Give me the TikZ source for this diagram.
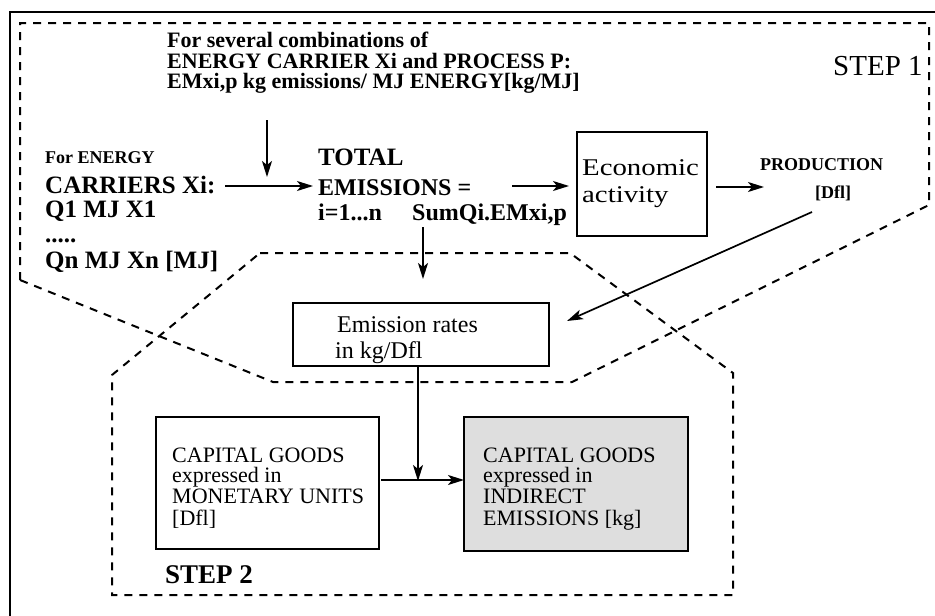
\documentclass[tikz,border=0pt]{standalone}
\usepackage{fontspec}
\setmainfont{Liberation Serif}
\usetikzlibrary{arrows.meta}
\newcommand\myfs[2]{\fontsize{#1}{#2}\selectfont}
\begin{document}
\begin{tikzpicture}[x=1pt,y=-1pt,
  txt/.style={inner sep=0pt, anchor=base west},
  dline/.style={line width=2pt, dash pattern=on 8pt off 7pt},
  boxst/.style={draw, line width=2pt, inner sep=0pt},
  arr/.style={line width=1.7pt, -{Stealth[length=16pt,width=10pt,inset=4pt]}},
]
\useasboundingbox (0,0) rectangle (935,616);
% outer frame (top and left visible)
\draw[line width=2.2pt] (10,616) -- (10,12) -- (935,12);

% STEP 1 region
\draw[dline] (20,280) -- (20,23) -- (929,23) -- (929,205) -- (572,382) -- (273,382) -- cycle;
% STEP 2 region
\draw[dline] (260,253) -- (570,253) -- (733,373) -- (733,595) -- (112,595) -- (112,375) -- cycle;

% top text
\node[txt, font=\bfseries\myfs{22}{22}] (top1) at (167,47) {For several combinations of};
\node[txt, font=\bfseries\myfs{22}{22}] (top2) at (167,68) {ENERGY CARRIER Xi and PROCESS P:};
\node[txt, font=\bfseries\myfs{22}{22}] (top3) at (167,88) {EMxi,p kg emissions/ MJ ENERGY[kg/MJ]};

\node[txt, font=\myfs{29}{29}] (step1) at (833,75) {STEP 1};

% left block
\node[txt, font=\bfseries\myfs{18}{18}] (forE) at (45,163) {For ENERGY};
\node[txt, font=\bfseries\myfs{25}{25}] (carr) at (45,193) {CARRIERS Xi:};
\node[txt, font=\bfseries\myfs{25}{25}] (q1) at (45,217) {Q1 MJ X1};
\node[txt, font=\bfseries\myfs{25}{25}] (dots) at (45,242) {.....};
\node[txt, font=\bfseries\myfs{25}{25}] (qn) at (45,268) {Qn MJ Xn [MJ]};

% total block
\node[txt, font=\bfseries\myfs{25}{25}] (total) at (318,165) {TOTAL};
\node[txt, font=\bfseries\myfs{24}{24}] (emiss) at (318,195) {EMISSIONS =};
\node[txt, font=\bfseries\myfs{24}{24}] (ion) at (318,220) {i=1...n};
\node[txt, font=\bfseries\myfs{24}{24}] (sumq) at (412,220) {SumQi.EMxi,p};

% economic activity
\node[boxst, minimum width=130pt, minimum height=104pt] (econ) at (642,183.5) {};
\node[txt, font=\myfs{24}{24}] (econt1) at (582,175) {\scalebox{1.2}[1]{Economic}};
\node[txt, font=\myfs{24}{24}] (econt2) at (582,202) {\scalebox{1.2}[1]{activity}};

% production
\node[txt, font=\bfseries\myfs{18}{18}] (prod) at (760,170) {PRODUCTION};
\node[txt, font=\bfseries\myfs{18}{18}] (dfl) at (815,198) {[Dfl]};

% emission rates
\node[boxst, minimum width=256pt, minimum height=63pt] (emis) at (421,334.5) {};
\node[txt, font=\myfs{24}{24}] (emist1) at (337,332) {Emission rates};
\node[txt, font=\myfs{24}{24}] (emist2) at (335,358) {in kg/Dfl};

% capital goods boxes
\node[boxst, minimum width=223pt, minimum height=132pt] (capL) at (267.5,483) {};
\node[txt, font=\myfs{22}{22}] (cl1) at (172,462) {CAPITAL GOODS};
\node[txt, font=\myfs{22}{22}] (cl2) at (172,482) {expressed in};
\node[txt, font=\myfs{22}{22}] (cl3) at (172,503) {MONETARY UNITS};
\node[txt, font=\myfs{22}{22}] (cl4) at (172,525) {[Dfl]};

\node[boxst, fill=black!13, minimum width=224pt, minimum height=134pt] (capR) at (576,484) {};
\node[txt, font=\myfs{22}{22}] (cr1) at (483,462) {CAPITAL GOODS};
\node[txt, font=\myfs{22}{22}] (cr2) at (483,482) {expressed in};
\node[txt, font=\myfs{22}{22}] (cr3) at (483,503) {INDIRECT};
\node[txt, font=\myfs{22}{22}] (cr4) at (483,525) {EMISSIONS [kg]};

\node[txt, font=\bfseries\myfs{27}{27}] (step2) at (165,583) {STEP 2};

% connectors
\coordinate (a1s) at (267,120); \coordinate (a1e) at (267,177);
\draw[arr] (a1s) -- (a1e);
\coordinate (a2s) at (225,186); \coordinate (a2e) at (313,186);
\draw[arr] (a2s) -- (a2e);
\coordinate (a3s) at (512,186); \coordinate (a3e) at (569,186);
\draw[arr] (a3s) -- (a3e);
\coordinate (a4s) at (716,187); \coordinate (a4e) at (764,187);
\draw[arr] (a4s) -- (a4e);
\coordinate (a5s) at (812,212); \coordinate (a5e) at (567,321);
\draw[arr] (a5s) -- (a5e);
\coordinate (a6s) at (423,227); \coordinate (a6e) at (423,279);
\draw[arr] (a6s) -- (a6e);
\coordinate (a7s) at (418,366); \coordinate (a7e) at (418,481);
\draw[arr] (a7s) -- (a7e);
\coordinate (a8s) at (381,480); \coordinate (a8e) at (464,480);
\draw[arr] (a8s) -- (a8e);
\end{tikzpicture}
\end{document}
